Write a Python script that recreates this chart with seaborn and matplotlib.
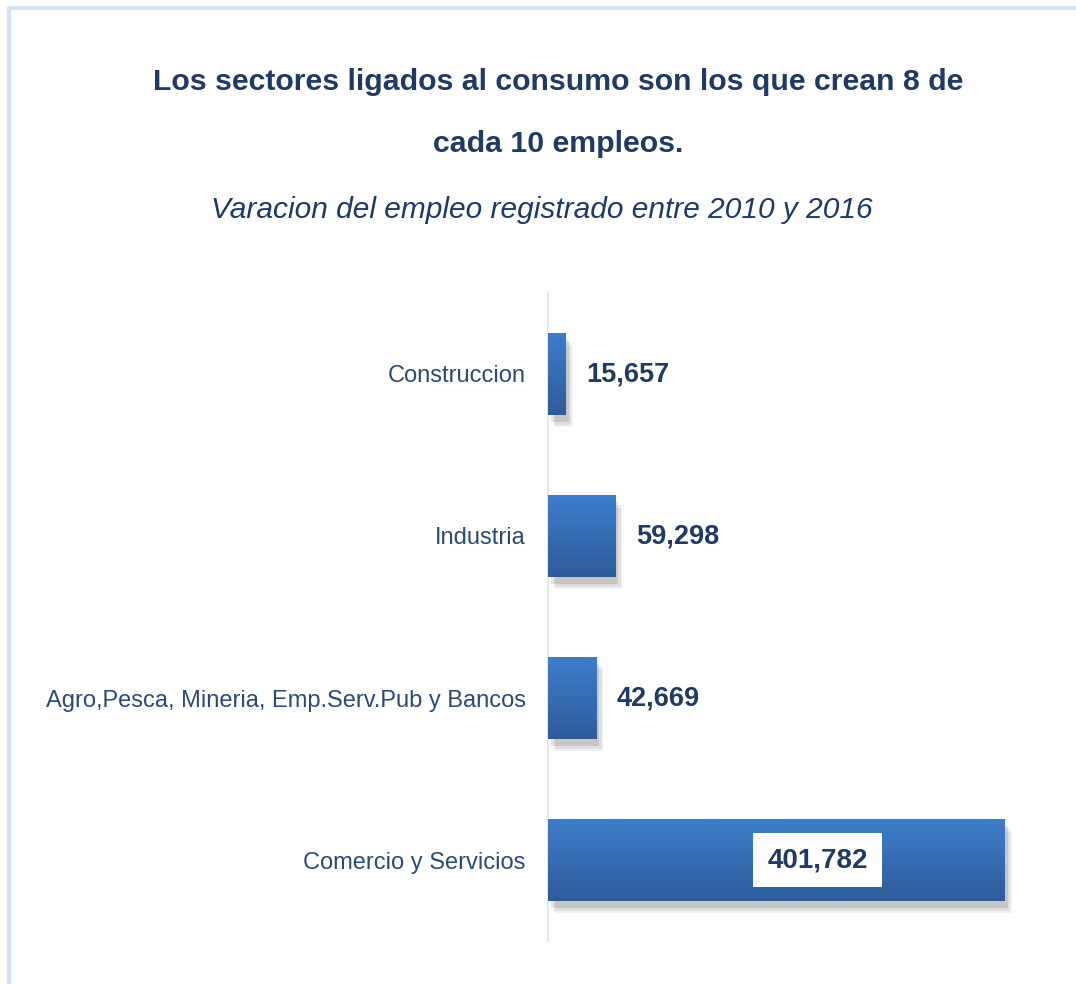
import numpy as np
import matplotlib
matplotlib.use("Agg")
import matplotlib.pyplot as plt
import matplotlib.patheffects as pe
from matplotlib.colors import LinearSegmentedColormap
from matplotlib.lines import Line2D
import seaborn as sns
import pandas as pd

# ── data ──────────────────────────────────────────────
sectores = ["Construccion", "Industria",
            "Agro,Pesca, Mineria, Emp.Serv.Pub y Bancos",
            "Comercio y Servicios"]
empleos = [15657, 59298, 42669, 401782]

titulo = "Los sectores ligados al consumo son los que crean 8 de\ncada 10 empleos."
subtitulo = "Varacion del empleo registrado entre 2010 y 2016"

df = pd.DataFrame({"sector": sectores, "empleos": empleos})

# ── style ─────────────────────────────────────────────
sns.set_style("white")
plt.rcParams["font.family"] = ["Liberation Sans", "DejaVu Sans"]

navy = "#1F3B63"
label_col = "#2B4A74"

fig = plt.figure(figsize=(10.76, 9.84), dpi=100)
ax = fig.add_axes([548 / 1076, 1 - 941 / 984, (1040 - 548) / 1076, (941 - 293) / 984])

sns.barplot(data=df, x="empleos", y="sector", orient="h", ax=ax,
            color="#3570BA", width=0.506, saturation=1, edgecolor="none")

# gradient fill + soft drop shadow
grad = LinearSegmentedColormap.from_list("g", ["#3D7DCB", "#2E5C99"])
for p in ax.patches:
    p.set_path_effects([pe.SimplePatchShadow(offset=(5, -9), alpha=0.05, shadow_rgbFace="k"),
                        pe.SimplePatchShadow(offset=(4, -7), alpha=0.08, shadow_rgbFace="k"),
                        pe.SimplePatchShadow(offset=(2, -5), alpha=0.11, shadow_rgbFace="k"),
                        pe.Normal()])
    x0, y0 = p.get_x(), p.get_y()
    w, h = p.get_width(), p.get_height()
    im = ax.imshow(np.linspace(0, 1, 64).reshape(-1, 1), cmap=grad, aspect="auto",
                   extent=(x0, x0 + w, y0 + h, y0), origin="upper", zorder=3)
    im.set_clip_path(p)

ax.set_xlim(0, 432700)
ax.set_ylim(3.5, -0.5)

# value labels
for i, v in enumerate(empleos):
    txt = f"{v:,}"
    if v > 300000:
        ax.text(v * 0.59, i, txt, ha="center", va="center", fontsize=20,
                fontweight="bold", color=navy, zorder=5,
                bbox=dict(boxstyle="square,pad=0.5", fc="white", ec="none"))
    else:
        ax.text(v + 18000, i, txt, ha="left", va="center", fontsize=19.5,
                fontweight="bold", color=navy, zorder=5)

ax.set_xlabel("")
ax.set_ylabel("")
ax.set_xticks([])
ax.tick_params(axis="y", length=0, pad=16, labelsize=17, labelcolor=label_col)
sns.despine(ax=ax, top=True, right=True, bottom=True, left=False)
ax.spines["left"].set_color("#DCE4F0")
ax.spines["left"].set_linewidth(1.2)

# titles
fig.text(558 / 1076, 1 - 113 / 984, titulo, ha="center", va="center",
         fontsize=21.8, fontweight="bold", color=navy, linespacing=2.5)
fig.text(542 / 1076, 1 - 210 / 984, subtitulo, ha="center", va="center",
         fontsize=21.5, style="italic", color=navy)

# light frame (top and left)
fig.add_artist(Line2D([9 / 1076, 1], [1 - 8 / 984, 1 - 8 / 984],
                      transform=fig.transFigure, color="#D4E2F4", lw=3))
fig.add_artist(Line2D([9 / 1076, 9 / 1076], [0, 1 - 8 / 984],
                      transform=fig.transFigure, color="#D4E2F4", lw=3))

fig.savefig("out.png", dpi=100, facecolor="white")
